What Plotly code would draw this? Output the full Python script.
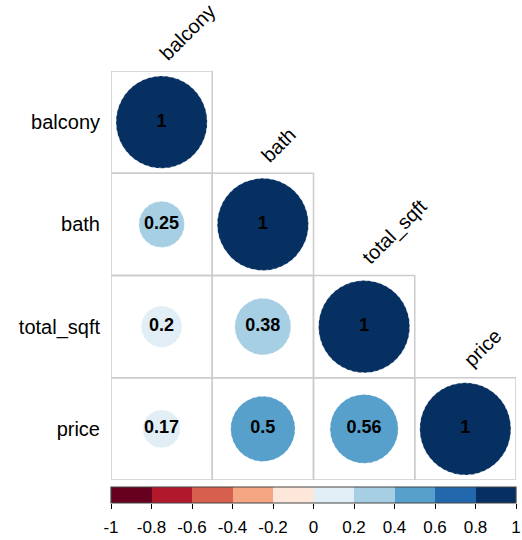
import numpy as np
import plotly.graph_objects as go

# Variables and lower-triangle correlation values (row i, column j <= i)
variables = ["balcony", "bath", "total_sqft", "price"]
corr_rows = [
    [1],
    [0.25, 1],
    [0.2, 0.38, 1],
    [0.17, 0.5, 0.56, 1],
]
value_labels = [
    ["1"],
    ["0.25", "1"],
    ["0.2", "0.38", "1"],
    ["0.17", "0.5", "0.56", "1"],
]

# Diverging palette in ten bins from -1 to 1
bin_colors = ["#67001F", "#B2182B", "#D6604D", "#F4A582", "#FDE6DA",
              "#E2EEF5", "#A7CFE4", "#56A0CB", "#2368AD", "#053061"]
bin_edges = np.round(np.linspace(-1, 1, 11), 10)
cbar_ticks = [-1, -0.8, -0.6, -0.4, -0.2, 0, 0.2, 0.4, 0.6, 0.8, 1]

W, H = 522, 540
grid_px = (111, 516, 71, 480)      # left, right, top, bottom of the matrix
cbar_px = (487, 503)               # top, bottom of the colour strip


def color_for(r):
    idx = int(np.searchsorted(bin_edges, r, side="left")) - 1
    return bin_colors[min(max(idx, 0), 9)]


n = len(variables)
fig = go.Figure()
shapes = []

# cell borders for the lower triangle
for i in range(n):
    for j in range(i + 1):
        shapes.append(dict(type="rect", xref="x", yref="y",
                           x0=j - 0.5, x1=j + 0.5, y0=i - 0.5, y1=i + 0.5,
                           line=dict(color="#CCCCCC", width=1.5),
                           fillcolor="rgba(0,0,0,0)", layer="below"))

# circles: area proportional to |r|
for i in range(n):
    for j in range(i + 1):
        r = corr_rows[i][j]
        rad = 0.45 * np.sqrt(abs(r))
        shapes.append(dict(type="circle", xref="x", yref="y",
                           x0=j - rad, x1=j + rad, y0=i - rad, y1=i + rad,
                           fillcolor=color_for(r), layer="below",
                           line=dict(color="white", width=0.6, dash="dot")))

# value labels
tx, ty, tt = [], [], []
for i in range(n):
    for j in range(i + 1):
        tx.append(j)
        ty.append(i)
        tt.append(value_labels[i][j])
fig.add_trace(go.Scatter(x=tx, y=ty, text=tt, mode="text",
                         textfont=dict(family="Liberation Sans", size=18,
                                       color="black", weight="bold"),
                         textposition="middle center", hoverinfo="skip",
                         showlegend=False, xaxis="x", yaxis="y"))

# colour strip
centers = [(bin_edges[k] + bin_edges[k + 1]) / 2 for k in range(10)]
fig.add_trace(go.Bar(x=centers, y=[1] * 10, width=0.2,
                     marker=dict(color=bin_colors, line=dict(width=0)),
                     hoverinfo="skip", showlegend=False,
                     xaxis="x2", yaxis="y2"))
shapes.append(dict(type="rect", xref="x2 domain", yref="y2 domain",
                   x0=0, x1=1, y0=0, y1=1,
                   line=dict(color="#444444", width=1.2)))

# column labels above the diagonal
annotations = []
for j, name in enumerate(variables):
    annotations.append(dict(x=j, y=j - 0.5, xref="x", yref="y", text=name,
                            showarrow=False, textangle=-45,
                            xanchor="left", yanchor="bottom",
                            xshift=-9, yshift=4,
                            font=dict(family="Liberation Sans", size=20,
                                      color="black")))

gx0, gx1, gy0, gy1 = grid_px
fig.update_layout(
    width=W, height=H,
    margin=dict(l=0, r=0, t=0, b=0),
    paper_bgcolor="white", plot_bgcolor="white",
    shapes=shapes, annotations=annotations,
    bargap=0,
    xaxis=dict(domain=[gx0 / W, gx1 / W], range=[-0.5, n - 0.5],
               showgrid=False, zeroline=False, showticklabels=False,
               showline=False, ticks="", automargin=False),
    yaxis=dict(domain=[1 - gy1 / H, 1 - gy0 / H], range=[n - 0.5, -0.5],
               tickmode="array", tickvals=list(range(n)), ticktext=variables,
               showgrid=False, zeroline=False, showline=False, ticks="",
               ticklabelstandoff=10, automargin=False,
               tickfont=dict(family="Liberation Sans", size=20, color="black")),
    xaxis2=dict(domain=[gx0 / W, gx1 / W], range=[-1, 1], anchor="y2",
                tickmode="array", tickvals=cbar_ticks,
                ticktext=[f"{t:g}" for t in cbar_ticks],
                ticks="outside", ticklen=5, tickcolor="black",
                showgrid=False, zeroline=False, showline=False,
                automargin=False, ticklabelstandoff=4,
                ticklabeloverflow="allow",
                tickfont=dict(family="Liberation Sans", size=17, color="black")),
    yaxis2=dict(domain=[1 - cbar_px[1] / H, 1 - cbar_px[0] / H], range=[0, 1],
                anchor="x2", showticklabels=False, showgrid=False,
                zeroline=False, ticks="", automargin=False),
)

fig.write_html("out.html")
